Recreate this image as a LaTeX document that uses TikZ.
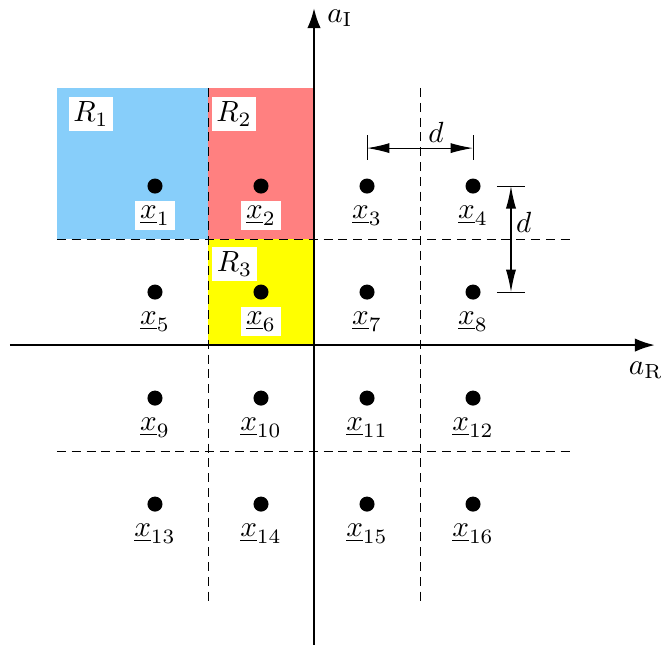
\documentclass[tikz,border=0pt]{standalone}
\usetikzlibrary{arrows.meta}
\definecolor{rblue}{RGB}{135,206,250}
\definecolor{rred}{RGB}{255,128,128}
\definecolor{ryellow}{RGB}{255,255,0}
\begin{document}
\begin{tikzpicture}[x=1.66cm,y=1.66cm,
  dot/.style={circle,fill=black,inner sep=0pt,minimum size=0.142*1.66cm},
  txt/.style={scale=1.3},
  lab/.style={txt,inner sep=1.2pt},
  wlab/.style={txt,fill=white,inner sep=1.6pt},
  grid/.style={line width=0.4pt,dash pattern=on 4pt off 2.6pt},
  axis/.style={line width=1.1pt,-{Latex[length=9pt,width=6pt]}},
  dim/.style={line width=0.5pt,{Latex[length=10pt,width=4.5pt]}-{Latex[length=10pt,width=4.5pt]}},
  tick/.style={line width=0.4pt}]
\useasboundingbox (-2.962,-2.821) rectangle (3.292,3.255);
% regions
\fill[rblue] (-2.425,1) rectangle (-1,2.425);
\fill[rred] (-1,1) rectangle (0,2.425);
\fill[ryellow] (-1,0) rectangle (0,1);
% grid lines
\coordinate (gv1t) at (-1,2.425); \coordinate (gv1b) at (-1,-2.425);
\coordinate (gv2t) at (1,2.425); \coordinate (gv2b) at (1,-2.425);
\coordinate (gh1l) at (-2.425,1); \coordinate (gh1r) at (2.425,1);
\coordinate (gh2l) at (-2.425,-1); \coordinate (gh2r) at (2.425,-1);
\draw[grid] (gv1t) -- (gv1b);
\draw[grid] (gv2t) -- (gv2b);
\draw[grid] (gh1l) -- (gh1r);
\draw[grid] (gh2l) -- (gh2r);
% axes
\coordinate (xl) at (-2.868,0); \coordinate (xr) at (3.217,0);
\coordinate (yb) at (0,-2.83); \coordinate (yt) at (0,3.18);
\draw[axis] (xl) -- (xr);
\draw[axis] (yb) -- (yt);
\node[txt,anchor=west,inner sep=0pt] (aI) at (0.12,3.085) {$a_{\mathrm{I}}$};
\node[txt,inner sep=0pt] (aR) at (3.13,-0.236) {$a_{\mathrm{R}}$};
% points
\foreach \i/\x/\y in {1/-1.5/1.5,2/-0.5/1.5,3/0.5/1.5,4/1.5/1.5,
                      5/-1.5/0.5,6/-0.5/0.5,7/0.5/0.5,8/1.5/0.5,
                      9/-1.5/-0.5,10/-0.5/-0.5,11/0.5/-0.5,12/1.5/-0.5,
                      13/-1.5/-1.5,14/-0.5/-1.5,15/0.5/-1.5,16/1.5/-1.5}{
  \node[dot] (p\i) at (\x,\y) {};
}
\foreach \i in {3,4,5,7,8,9,10,11,12,13,14,15,16}{
  \node[lab] (l\i) at ([yshift=-0.28*1.66cm]p\i.center) {$\underline{x}_{\i}$};
}
\foreach \i in {1,2,6}{
  \node[wlab] (l\i) at ([yshift=-0.28*1.66cm]p\i.center) {$\underline{x}_{\i}$};
}
% region labels
\node[wlab] (R1) at (-2.104,2.179) {$R_1$};
\node[wlab] (R2) at (-0.755,2.179) {$R_2$};
\node[wlab] (R3) at (-0.75,0.764) {$R_3$};
% dimension horizontal
\coordinate (ha) at (0.5,1.858); \coordinate (hb) at (1.5,1.858);
\coordinate (hat) at (0.5,1.98); \coordinate (hab) at (0.5,1.745);
\coordinate (hbt) at (1.5,1.98); \coordinate (hbb) at (1.5,1.745);
\draw[tick] (hat) -- (hab);
\draw[tick] (hbt) -- (hbb);
\draw[dim] (ha) -- (hb);
\node[txt,inner sep=0pt] (dh) at (1.15,2.01) {$d$};
% dimension vertical
\coordinate (va) at (1.858,1.5); \coordinate (vb) at (1.858,0.5);
\coordinate (val) at (1.726,1.5); \coordinate (var) at (1.99,1.5);
\coordinate (vbl) at (1.726,0.5); \coordinate (vbr) at (1.99,0.5);
\draw[tick] (val) -- (var);
\draw[tick] (vbl) -- (vbr);
\draw[dim] (va) -- (vb);
\node[txt,anchor=west,inner sep=0pt] (dv) at (1.90,1.16) {$d$};
\end{tikzpicture}
\end{document}
